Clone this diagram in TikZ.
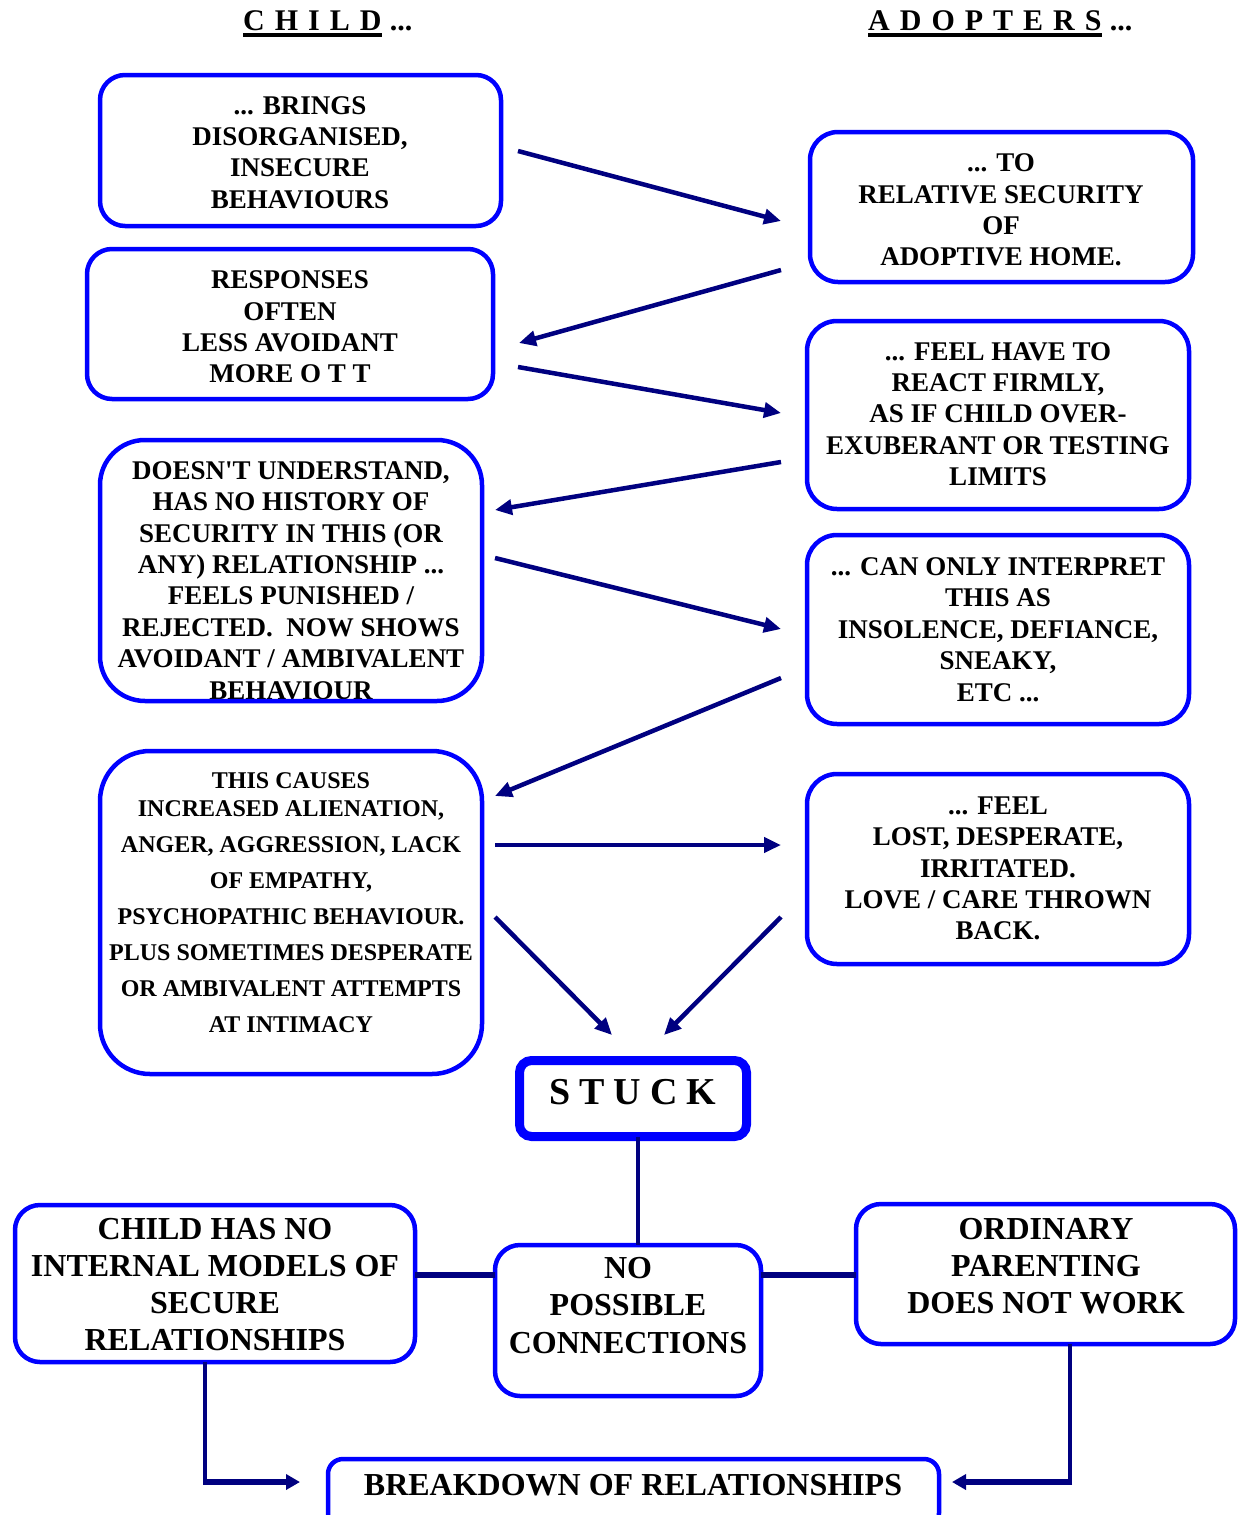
\documentclass[tikz,border=0pt]{standalone}
\usepackage{fontspec}
\setmainfont{Liberation Serif}
\usetikzlibrary{arrows.meta,calc}
\definecolor{bxblue}{RGB}{0,0,255}
\definecolor{arnavy}{RGB}{0,0,128}
\newcommand\gapL{\hspace{10pt}}
\newcommand\gapS{\hspace{9pt}}
\begin{document}
\begin{tikzpicture}[x=1pt,y=-1pt,
  box/.style={draw=bxblue, line width=4.5pt, rectangle, inner sep=0pt, outer sep=0pt},
  txtA/.style={font=\bfseries\fontsize{27}{31.4}\selectfont, align=center, inner sep=0pt},
  txtB/.style={font=\bfseries\fontsize{24}{36}\selectfont, align=center, inner sep=0pt},
  txtC/.style={font=\bfseries\fontsize{32}{37.2}\selectfont, align=center, inner sep=0pt},
  hdr/.style={font=\bfseries\fontsize{30}{36}\selectfont, inner sep=0pt},
  arr/.style={draw=arnavy, line width=4.5pt, -{Triangle[length=17pt,width=15pt]}},
  conn/.style={draw=arnavy, line width=4pt},
  connthick/.style={draw=arnavy, line width=6pt},
  harrow/.style={draw=arnavy, line width=6pt, -{Triangle[length=14pt,width=15pt]}}
]
\useasboundingbox (0,0) rectangle (1239,1515);
\clip (0,0) rectangle (1239,1515);
\fill[white] (0,0) rectangle (1239,1515);

% headers
\node[hdr, anchor=base west] (hc) at (243,30) {C\gapL H\gapL I\gapL L\gapL D};
\draw[line width=3.5pt] ($(hc.base west)+(0,5)$) -- ($(hc.base east)+(0,5)$);
\node[hdr, anchor=base west] (hcd) at ($(hc.base east)+(8,0)$) {...};
\node[hdr, anchor=base west] (ha) at (868,30) {A\gapL D\gapL O\gapL P\gapL T\gapL E\gapL R\gapL S};
\draw[line width=3.5pt] ($(ha.base west)+(0,5)$) -- ($(ha.base east)+(0,5)$);
\node[hdr, anchor=base west] (had) at ($(ha.base east)+(8,0)$) {...};

% texts
\node[txtA] (t1) at (300,152.5) {... BRINGS\\DISORGANISED,\\INSECURE\\BEHAVIOURS};
\node[txtA] (t2) at (290,327) {RESPONSES\\OFTEN\\LESS AVOIDANT\\MORE O T T};
\node[txtA] (t3) at (291,580.5) {DOESN\textquotesingle T UNDERSTAND,\\HAS NO HISTORY OF\\SECURITY IN THIS (OR\\ANY) RELATIONSHIP ...\\FEELS PUNISHED /\\REJECTED.\ \ NOW SHOWS\\AVOIDANT / AMBIVALENT\\BEHAVIOUR};
\node[txtB] (t4) at (291,902.5) {THIS CAUSES\\[-8pt]INCREASED ALIENATION,\\ANGER, AGGRESSION, LACK\\OF EMPATHY,\\PSYCHOPATHIC BEHAVIOUR.\\PLUS SOMETIMES DESPERATE\\OR AMBIVALENT ATTEMPTS\\AT INTIMACY};
\node[txtA] (tr1) at (1001,210) {... TO\\RELATIVE SECURITY\\OF\\ADOPTIVE HOME.};
\node[txtA] (tr2) at (998,414) {... FEEL HAVE TO\\REACT FIRMLY,\\AS IF CHILD OVER-\\EXUBERANT OR TESTING\\LIMITS};
\node[txtA] (tr3) at (998,629.5) {... CAN ONLY INTERPRET\\THIS AS\\INSOLENCE, DEFIANCE,\\SNEAKY,\\ETC ...};
\node[txtA] (tr4) at (998,868.5) {... FEEL\\LOST, DESPERATE,\\IRRITATED.\\LOVE / CARE THROWN\\BACK.};
\node[font=\bfseries\fontsize{38}{40}\selectfont, inner sep=0pt] (tst) at (633,1092) {S\gapS T\gapS U\gapS C\gapS K};
\node[txtC] (tb1) at (215,1284.5) {CHILD HAS NO\\INTERNAL MODELS OF\\SECURE\\RELATIONSHIPS};
\node[txtC] (tb2) at (628,1305.5) {NO\\POSSIBLE\\CONNECTIONS};
\node[txtC] (tb3) at (1046,1266) {ORDINARY\\PARENTING\\DOES NOT WORK};
\node[txtC] (tb4) at (633,1485) {BREAKDOWN OF RELATIONSHIPS};

% boxes
\node[box, rounded corners=25pt, minimum width=401pt, minimum height=151pt] (b1) at (300.5,150.5) {};
\node[box, rounded corners=25pt, minimum width=406pt, minimum height=150pt] (b2) at (290,324) {};
\node[box, rounded corners=45pt, minimum width=382pt, minimum height=261pt] (b3) at (291,570.5) {};
\node[box, rounded corners=50pt, minimum width=382pt, minimum height=323pt] (b4) at (291,912.5) {};
\node[box, rounded corners=28pt, minimum width=383pt, minimum height=150pt] (r1) at (1001.5,207) {};
\node[box, rounded corners=30pt, minimum width=382pt, minimum height=188pt] (r2) at (998,415) {};
\node[box, rounded corners=30pt, minimum width=382pt, minimum height=189pt] (r3) at (998,629.5) {};
\node[box, rounded corners=30pt, minimum width=382pt, minimum height=190pt] (r4) at (998,869) {};
\node[box, line width=9pt, rounded corners=12pt, minimum width=227pt, minimum height=76pt] (st) at (633,1098.5) {};
\node[box, rounded corners=25pt, minimum width=400pt, minimum height=157pt] (bb1) at (215,1283.5) {};
\node[box, rounded corners=25pt, minimum width=266pt, minimum height=151pt] (bb2) at (628,1320.5) {};
\node[box, rounded corners=25pt, minimum width=379pt, minimum height=140pt] (bb3) at (1045.5,1274) {};
\node[box, rounded corners=15pt, minimum width=611pt, minimum height=69pt] (bb4) at (633.5,1493.5) {};

% arrow end points
\coordinate (a1s) at (518,151);  \coordinate (a1e) at (781,221);
\coordinate (a2s) at (781,270);  \coordinate (a2e) at (519,343);
\coordinate (a3s) at (518,367);  \coordinate (a3e) at (781,413);
\coordinate (a4s) at (781,462);  \coordinate (a4e) at (495,510);
\coordinate (a5s) at (495,558);  \coordinate (a5e) at (781,629);
\coordinate (a6s) at (781,678);  \coordinate (a6e) at (495,796);
\coordinate (a7s) at (495,845);  \coordinate (a7e) at (781,845);
\coordinate (a8s) at (495,917);  \coordinate (a8e) at (612,1035);
\coordinate (a9s) at (781,917);  \coordinate (a9e) at (664,1035);
\foreach \i in {1,...,9} {\draw[arr] (a\i s) -- (a\i e);}

% bottom connectors
\coordinate (sv) at (638,0);
\coordinate (hy) at (0,1275);
\coordinate (ly) at (0,1482);
\coordinate (lx) at (205,0);
\coordinate (rx) at (1070,0);
\coordinate (lt) at (300,1482);
\coordinate (rt) at (952,1482);
\draw[conn] (st.south -| sv) -- (bb2.north -| sv);
\draw[connthick] (bb1.east |- hy) -- (bb2.west |- hy);
\draw[connthick] (bb2.east |- hy) -- (bb3.west |- hy);
\draw[conn] (bb1.south -| lx) -- (lx |- ly);
\draw[harrow] ($(lx |- ly)+(-2,0)$) -- (lt);
\draw[conn] (bb3.south -| rx) -- (rx |- ly);
\draw[harrow] ($(rx |- ly)+(2,0)$) -- (rt);
\end{tikzpicture}
\end{document}
